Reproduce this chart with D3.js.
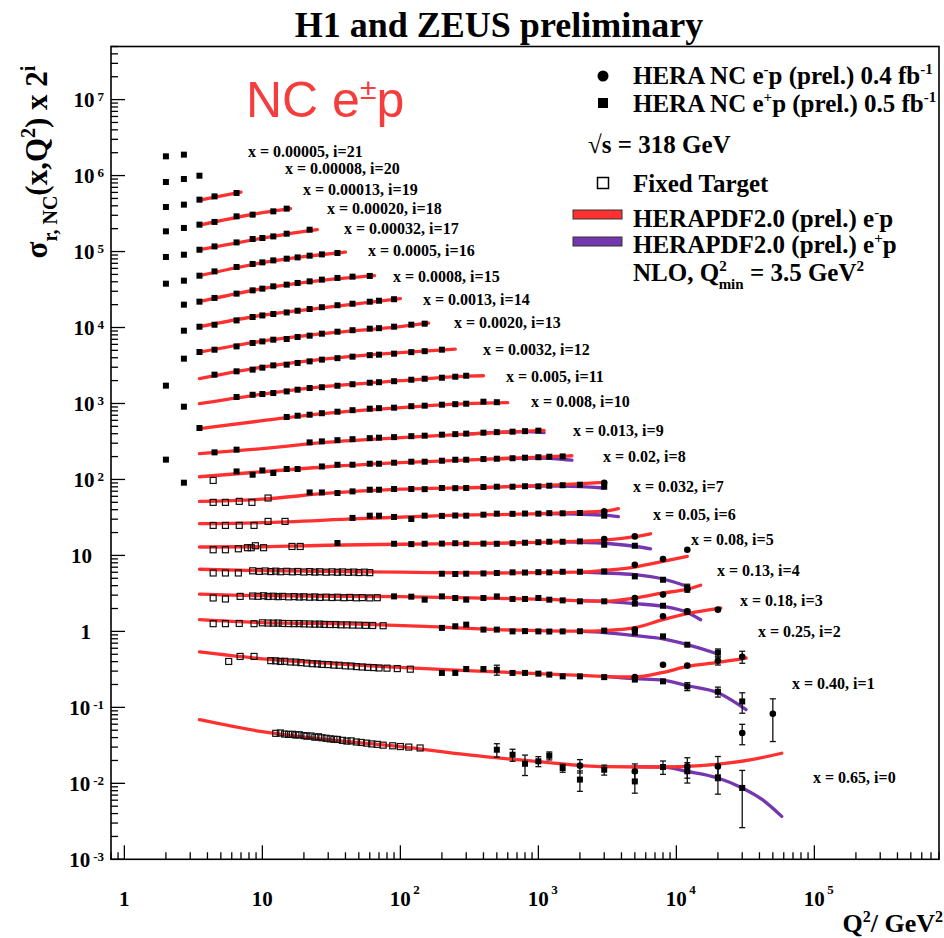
<!DOCTYPE html>
<html>
<head>
<meta charset="utf-8">
<script src="https://cdn.jsdelivr.net/npm/d3@7"></script>
<style>
  body { margin: 0; background: #fff; }
  svg text { font-family: 'Liberation Serif', 'Times New Roman', serif; font-weight: bold; }
</style>
</head>
<body>
<div id="chart"></div>
<script>
// ---- data (sigma_r; plotted value = sigma_r * 2^i) ----

// bin labels, index = i
const binX = ["0.65","0.40","0.25","0.18","0.13","0.08","0.05","0.032","0.02","0.013","0.008",
  "0.005","0.0032","0.0020","0.0013","0.0008","0.0005","0.00032","0.00020","0.00013","0.00008","0.00005"];

// HERA NC e+p points [Q2, sigma, relErr]
const heraPlus = [
  [[500,0.0277,0.2],[650,0.0238,0.18],[800,0.0181,0.3],[1000,0.0195,0.15],[1200,0.0231,0.12],[1500,0.0159,0.12],[2000,0.0112,0.3],[3000,0.0151,0.15],[5000,0.0106,0.3],[8000,0.0164,0.2],[12000,0.0144,0.3],[20000,0.0120,0.4],[30000,0.0087,0.7]],
  [[200,0.142,0.03],[250,0.142,0.03],[300,0.160,0.03],[400,0.160,0.03],[500,0.156,0.15],[650,0.142,0.03],[800,0.142,0.03],[1000,0.139,0.03],[1200,0.135,0.04],[1500,0.128,0.04],[2000,0.128,0.05],[3000,0.125,0.05],[5000,0.116,0.06],[8000,0.110,0.1],[12000,0.0943,0.12],[20000,0.0803,0.15],[30000,0.0598,0.3]],
  [[200,0.278,0.03],[250,0.292,0.06],[300,0.307,0.03],[400,0.264,0.03],[500,0.264,0.03],[650,0.250,0.03],[800,0.252,0.03],[1000,0.250,0.03],[1200,0.249,0.03],[1500,0.250,0.03],[2000,0.251,0.03],[3000,0.256,0.04],[5000,0.241,0.06],[8000,0.215,0.08],[12000,0.167,0.1],[20000,0.131,0.12]],
  [[90,0.361,0],[120,0.358,0],[150,0.327,0],[200,0.361,0],[250,0.344,0],[300,0.327,0],[400,0.344,0],[500,0.361,0],[650,0.334,0],[800,0.334,0],[1000,0.344,0],[1200,0.327,0],[1500,0.320,0],[2000,0.311,0.03],[3000,0.311,0.04],[5000,0.290,0.05],[8000,0.272,0.07],[12000,0.226,0.1]],
  [[200,0.359,0],[250,0.356,0],[300,0.359,0],[400,0.362,0],[500,0.367,0],[650,0.374,0],[800,0.372,0],[1000,0.376,0],[1200,0.374,0],[1500,0.381,0],[2000,0.381,0.03],[3000,0.385,0.04],[5000,0.331,0.05],[8000,0.299,0.07],[12000,0.233,0.12]],
  [[35,0.455,0],[90,0.445,0],[120,0.440,0],[150,0.445,0],[200,0.447,0],[250,0.452,0],[300,0.445,0],[400,0.447,0],[500,0.445,0],[650,0.452,0],[800,0.459,0],[1000,0.466,0],[1200,0.473,0],[1500,0.473,0],[2000,0.478,0.03],[3000,0.432,0.04],[5000,0.419,0.06]],
  [[45,0.487,0],[60,0.521,0],[70,0.521,0],[90,0.501,0],[120,0.472,0],[150,0.521,0],[200,0.518,0],[250,0.524,0],[300,0.521,0],[400,0.537,0],[500,0.554,0],[650,0.551,0],[800,0.556,0],[1000,0.554,0],[1200,0.562,0],[1500,0.560,0],[2000,0.566,0.03],[3000,0.521,0.04]],
  [[22,0.527,0],[27,0.527,0],[35,0.518,0],[45,0.544,0],[60,0.572,0],[70,0.572,0],[90,0.585,0],[120,0.585,0],[150,0.582,0],[200,0.603,0],[250,0.600,0],[300,0.603,0],[400,0.622,0],[500,0.627,0],[650,0.627,0],[800,0.636,0],[1000,0.634,0],[1200,0.646,0],[1500,0.656,0],[2000,0.666,0.03],[3000,0.627,0.04]],
  [[2.7,0.354,0],[6.5,0.498,0],[8.5,0.451,0],[10,0.513,0],[12,0.475,0],[15,0.536,0],[18,0.536,0],[27,0.579,0],[35,0.610,0],[45,0.610,0],[60,0.629,0],[70,0.629,0],[90,0.649,0],[120,0.669,0],[150,0.669,0],[200,0.689,0],[250,0.710,0],[300,0.710,0],[400,0.725,0],[500,0.732,0],[650,0.743,0],[800,0.755,0],[1000,0.766,0],[1200,0.778,0.02],[1500,0.785,0.03]],
  [[2,0.356,0],[4.5,0.444,0],[6.5,0.482,0],[22,0.601,0],[27,0.619,0],[35,0.642,0],[45,0.662,0],[60,0.683,0],[70,0.693,0],[90,0.704,0],[120,0.725,0],[150,0.736,0],[200,0.759,0],[250,0.771,0],[300,0.783,0],[400,0.806,0],[500,0.819,0],[650,0.831,0],[800,0.844,0],[1000,0.857,0.02]],
  [[3.5,0.464,0],[15,0.649,0],[18,0.674,0],[22,0.695,0],[27,0.727,0],[35,0.761,0],[45,0.797,0],[60,0.834,0],[70,0.847,0],[90,0.860,0],[120,0.899,0],[150,0.913,0],[200,0.941,0],[250,0.956,0],[300,0.970,0],[400,1.031,0],[500,1.015,0]],
  [[2.7,0.443,0],[6.5,0.594,0],[8.5,0.636,0],[10,0.650,0],[12,0.670,0],[15,0.704,0],[18,0.741,0],[22,0.780,0],[27,0.799,0],[35,0.836,0],[45,0.875,0],[60,0.916,0],[70,0.930,0],[90,0.959,0],[120,1.003,0],[150,1.034,0],[200,1.066,0],[250,1.099,0],[300,1.132,0]],
  [[2,0.419,0],[4.5,0.585,0],[6.5,0.647,0],[8.5,0.681,0],[10,0.723,0],[12,0.775,0],[15,0.792,0],[18,0.834,0],[22,0.875,0],[27,0.922,0],[35,0.964,0],[45,1.009,0],[60,1.056,0],[70,1.072,0],[90,1.105,0],[120,1.157,0],[150,1.192,0],[200,1.247,0]],
  [[2.7,0.475,0],[3.5,0.581,0],[4.5,0.623,0],[6.5,0.689,0],[8.5,0.764,0],[10,0.801,0],[12,0.844,0],[15,0.862,0],[18,0.916,0],[22,0.953,0],[27,1.012,0],[35,1.075,0],[45,1.125,0],[60,1.178,0],[70,1.196,0],[90,1.252,0],[120,1.330,0],[150,1.371,0]],
  [[2.7,0.554,0],[3.5,0.625,0],[4.5,0.664,0],[6.5,0.757,0],[8.5,0.839,0],[10,0.880,0],[12,0.919,0],[15,0.964,0],[18,1.015,0],[22,1.069,0],[27,1.129,0],[35,1.199,0],[45,1.255,0],[60,1.334,0],[70,1.375,0],[90,1.439,0]],
  [[2.7,0.610,0],[3.5,0.668,0],[4.5,0.748,0],[6.5,0.852,0],[8.5,0.941,0],[10,0.991,0],[12,1.063,0],[15,1.119,0],[18,1.178,0],[22,1.236,0],[27,1.302,0],[35,1.371,0],[45,1.426,0],[60,1.457,0]],
  [[2,0.576,0],[2.7,0.631,0],[3.5,0.734,0],[4.5,0.836,0],[6.5,0.956,0],[8.5,1.047,0],[10,1.099,0],[12,1.167,0],[15,1.229,0],[18,1.278,0],[22,1.346,0],[27,1.400,0],[35,1.461,0]],
  [[2,0.647,0],[2.7,0.693,0],[3.5,0.806,0],[4.5,0.891,0],[6.5,1.006,0],[8.5,1.116,0],[10,1.150,0],[12,1.207,0],[15,1.310,0],[22,1.479,0]],
  [[2,0.704,0],[2.7,0.780,0],[3.5,0.862,0],[4.5,0.936,0],[6.5,1.109,0],[8.5,1.167,0],[12,1.290,0],[15,1.400,0]],
  [[2,0.736,0],[2.7,0.790,0],[3.5,0.919,0],[4.5,1.015,0],[6.5,1.125,0]],
  [[2,0.785,0],[2.7,0.860,0],[3.5,0.950,0]],
  [[2,0.854,0],[2.7,0.899,0]]
];

// HERA NC e-p points [Q2, sigma, relErr]
const heraMinus = [
  [[2000,0.0171,0.2],[5000,0.0144,0.25],[12000,0.0167,0.3],[20000,0.0167,0.35],[30000,0.046,0.3],[50000,0.0825,0.57]],
  [[5000,0.125,0.05],[8000,0.182,0.08],[12000,0.177,0.1],[20000,0.205,0.12],[30000,0.232,0.18]],
  [[5000,0.264,0.05],[8000,0.395,0.07],[12000,0.459,0.08],[20000,0.483,0.1]],
  [[5000,0.344,0.05],[8000,0.381,0.06],[12000,0.449,0.08]],
  [[5000,0.472,0.05],[8000,0.561,0.07],[12000,0.743,0.1]],
  [[3000,0.513,0.04],[5000,0.556,0.05]],
  [[3000,0.594,0.04]],
  [[3000,0.708,0.04]]
];

// fixed target points [Q2, sigma]
const fixedTarget = [
  [[12.5,0.0455],[13.5,0.046],[14.5,0.0445],[15.5,0.044],[16.5,0.0442],[17.5,0.0432],[18.5,0.0436],[20,0.0425],[21,0.0418],[22.5,0.042],[24,0.0405],[25.5,0.041],[27,0.0398],[29,0.0392],[31,0.0385],[33,0.038],[35,0.0378],[38,0.0368],[41,0.036],[44,0.0362],[48,0.035],[52,0.0345],[57,0.0338],[62,0.033],[68,0.0326],[75,0.0318],[88,0.0312],[100,0.0305],[115,0.030],[139,0.0292]],
  [[5.7,0.201],[6.9,0.234],[8.7,0.234],[11.5,0.206],[12.5,0.205],[13.5,0.201],[14.5,0.202],[16,0.198],[17.5,0.197],[19,0.194],[21,0.191],[23,0.188],[25,0.187],[27,0.184],[30,0.183],[33,0.180],[36,0.179],[40,0.176],[44,0.175],[48,0.172],[53,0.170],[58,0.168],[64,0.167],[70,0.165],[80,0.164],[95,0.162],[118,0.159]],
  [[4.4,0.316],[5.4,0.316],[6.8,0.318],[8.7,0.316],[10,0.324],[11,0.322],[12,0.321],[13,0.322],[14,0.318],[15.5,0.317],[17,0.316],[18.5,0.317],[20,0.314],[22,0.313],[24,0.311],[26,0.312],[28,0.309],[31,0.308],[34,0.308],[37,0.305],[41,0.305],[45,0.303],[50,0.302],[56,0.300],[63,0.299],[75,0.297]],
  [[4.4,0.344],[5.4,0.334],[6.9,0.361],[8.5,0.365],[9.3,0.362],[10.2,0.368],[11,0.360],[12,0.363],[13,0.358],[14,0.361],[15.5,0.356],[17,0.359],[18.5,0.354],[20,0.357],[22,0.352],[24,0.355],[26,0.350],[29,0.353],[32,0.349],[35,0.352],[39,0.347],[43,0.350],[48,0.346],[53,0.348],[60,0.345],[68,0.347]],
  [[4.4,0.367],[5.4,0.367],[6.7,0.367],[8.5,0.392],[9.5,0.385],[10.5,0.390],[11.5,0.383],[12.5,0.388],[13.5,0.381],[15,0.386],[16.5,0.380],[18,0.384],[20,0.378],[22,0.383],[24,0.377],[26,0.381],[29,0.376],[32,0.380],[35,0.375],[38,0.379],[42,0.374],[46,0.377],[50,0.372],[55,0.376],[60,0.371]],
  [[4.4,0.371],[5.4,0.371],[6.7,0.382],[7.8,0.395],[8.3,0.395],[8.9,0.419],[10.2,0.395],[16.4,0.410],[18.8,0.410]],
  [[4.4,0.388],[5.4,0.388],[6.8,0.388],[8.7,0.388],[11,0.438],[14.6,0.438]],
  [[4.4,0.390],[5.4,0.390],[6.8,0.402],[8.4,0.390],[11,0.445]],
  [[4.4,0.379]]
];

// HERAPDF2.0 e-p prediction [Q2, sigma]
const pdfMinus = [
  [[3.5,0.0688],[10,0.0478],[30,0.0375],[100,0.0304],[300,0.0238],[1000,0.0193],[3000,0.01656],[8000,0.0164],[15000,0.01707],[25000,0.0187],[35000,0.0205],[58000,0.0249]],
  [[3.5,0.268],[10,0.218],[30,0.1905],[70,0.173],[300,0.152],[1000,0.139],[3000,0.1277],[5000,0.1254],[8000,0.1442],[12000,0.1729],[20000,0.1952],[32000,0.223]],
  [[3.5,0.357],[10,0.326],[50,0.3116],[150,0.2915],[500,0.264],[2000,0.2518],[3000,0.2562],[5000,0.28],[8000,0.357],[12000,0.428],[21000,0.5055]],
  [[3.5,0.3864],[10,0.3689],[100,0.3578],[1000,0.3317],[3000,0.3124],[5000,0.3439],[8000,0.4005],[12000,0.449],[15000,0.507]],
  [[3.5,0.4111],[10,0.3935],[100,0.3757],[500,0.3669],[2000,0.3757],[3000,0.397],[5000,0.4394],[8000,0.5211],[12000,0.6066]],
  [[3.5,0.4031],[10,0.4066],[30,0.4253],[100,0.4384],[500,0.4519],[2000,0.4805],[3000,0.4953],[5000,0.5506],[6500,0.6027]],
  [[3.5,0.409],[10,0.4216],[50,0.476],[200,0.5211],[1000,0.5539],[3000,0.5972],[3800,0.6444]],
  [[3.5,0.4019],[10,0.4297],[30,0.5148],[100,0.5812],[500,0.6215],[1500,0.6662],[3000,0.7142]],
  [[3.5,0.424],[10,0.4938],[30,0.5742],[100,0.6485],[500,0.7318],[1500,0.7897],[1750,0.8014]],
  [[3.5,0.4266],[10,0.4967],[30,0.6046],[100,0.6928],[300,0.7706],[1100,0.8647]],
  [[3.5,0.4546],[10,0.5794],[30,0.7274],[100,0.8595],[300,0.9701],[600,1.0]],
  [[3.5,0.4846],[10,0.6465],[30,0.8236],[100,0.9731],[300,1.1155],[400,1.1324]],
  [[3.5,0.518],[10,0.7342],[30,0.9498],[100,1.1394],[250,1.2664]],
  [[3.5,0.5776],[10,0.8063],[30,1.0277],[100,1.2515],[160,1.3914]],
  [[3.5,0.6254],[10,0.8857],[30,1.129],[100,1.461]],
  [[3.5,0.6684],[10,0.9909],[30,1.3019],[65,1.4697]],
  [[3.5,0.7342],[10,1.0886],[20,1.3058],[40,1.496]],
  [[3.5,0.8063],[10,1.1426],[15,1.2901],[25,1.4787]],
  [[3.5,0.8491],[10,1.2403],[16,1.4001]],
  [[3.5,0.9048],[7,1.153]]
];

// HERAPDF2.0 e+p prediction where it departs from e-p [Q2, sigma]
const pdfPlus = [
  [[5000,0.01656],[8000,0.0164],[12000,0.01436],[20000,0.01175],[30000,0.00869],[42000,0.00609],[58000,0.00367]],
  [[3000,0.1277],[5000,0.1191],[8000,0.1138],[12000,0.0963],[20000,0.0779],[32000,0.0466]],
  [[2000,0.2518],[3000,0.241],[5000,0.22],[8000,0.1992],[12000,0.1673],[19000,0.13]],
  [[2000,0.3172],[3000,0.3105],[5000,0.2897],[8000,0.2672],[12000,0.2221],[15000,0.178]],
  [[2000,0.3757],[3000,0.3669],[5000,0.3487],[8000,0.3058],[12000,0.2445]],
  [[1500,0.473],[3000,0.4519],[5000,0.4126],[6500,0.3822]],
  [[1000,0.5539],[2000,0.5454],[3000,0.529],[3800,0.5055]],
  [[800,0.6364],[1500,0.6364],[3000,0.6027]],
  [[500,0.7318],[1000,0.7475],[1500,0.7206],[1750,0.6994]],
  [[300,0.7706],[800,0.8313],[1100,0.8063]]
];

// ---- layout ----
const W = 944, H = 938;
const labelPos = [[813,783],[792,689],[758,637],[740,606],[717,576],[691,545],[653,520],[633,492],[603,462],[573,436],[531,407],
  [506,382],[483,355],[454,328],[423,305],[393,282],[368,256],[344,234],[327,214],[303,195],[285,174],[248,157]];
const RED = "#ff3030", PURPLE = "#7537b0";

const svg = d3.select("#chart").append("svg").attr("width", W).attr("height", H);

const x = d3.scaleLog().domain([0.8, 8e5]).range([111, 939]);
const y = d3.scaleLog().domain([1e-3, 5e7]).range([859.3, 46.5]);

// text with super/subscripts: parts [text, kind(0 normal, 1 sup, -1 sub), dx]
function rich(t, parts, small, shift) {
  let cur = 0;
  parts.forEach(p => {
    const off = p[1] === 1 ? -shift : (p[1] === -1 ? shift * 0.8 : 0);
    const ts = t.append("tspan").attr("dy", off - cur).text(p[0]);
    if (p[1] !== 0) ts.attr("font-size", small);
    if (p[2]) ts.attr("dx", p[2]);
    cur = off;
  });
  return t;
}

// ---- curves ----
const gCurves = svg.append("g").attr("fill", "none").attr("stroke-width", 3.3).attr("stroke-linecap", "round");
function curvePath(i) {
  return d3.line().x(d => x(d[0])).y(d => y(d[1] * Math.pow(2, i))).curve(d3.curveMonotoneX);
}
pdfPlus.forEach((c, i) => gCurves.append("path").attr("d", curvePath(i)(c)).attr("stroke", PURPLE));
pdfMinus.forEach((c, i) => gCurves.append("path").attr("d", curvePath(i)(c)).attr("stroke", RED));

// ---- points ----
const gPts = svg.append("g");
function errBar(i, d) {
  if (!d[2]) return;
  const s = Math.pow(2, i), px = x(d[0]);
  const y1 = y(d[1] * (1 + d[2]) * s), y2 = y(Math.max(d[1] * (1 - d[2]), 1e-4) * s);
  if (y2 - y1 < 7) return;
  gPts.append("line").attr("x1", px).attr("x2", px).attr("y1", y1).attr("y2", y2).attr("stroke", "#111").attr("stroke-width", 1.3);
  [y1, y2].forEach(yy => gPts.append("line").attr("x1", px - 3).attr("x2", px + 3).attr("y1", yy).attr("y2", yy)
    .attr("stroke", "#111").attr("stroke-width", 1.3));
}
fixedTarget.forEach((bin, i) => bin.forEach(d => {
  gPts.append("rect").attr("x", x(d[0]) - 3).attr("y", y(d[1] * Math.pow(2, i)) - 3).attr("width", 6).attr("height", 6)
    .attr("fill", "none").attr("stroke", "#111").attr("stroke-width", 1.2);
}));
heraPlus.forEach((bin, i) => bin.forEach(d => {
  errBar(i, d);
  gPts.append("rect").attr("x", x(d[0]) - 3).attr("y", y(d[1] * Math.pow(2, i)) - 3).attr("width", 6).attr("height", 6).attr("fill", "#000");
}));
heraMinus.forEach((bin, i) => bin.forEach(d => {
  errBar(i, d);
  gPts.append("circle").attr("cx", x(d[0])).attr("cy", y(d[1] * Math.pow(2, i))).attr("r", 3.3).attr("fill", "#000");
}));

// ---- bin labels ----
binX.forEach((bx, i) => {
  svg.append("text").attr("x", labelPos[i][0]).attr("y", labelPos[i][1]).attr("font-size", 16)
    .text("x = " + bx + ", i=" + i);
});

// ---- frame and ticks ----
const x0 = 111, x1 = 939, y0 = 46.5, y1 = 859.3;
const gAx = svg.append("g").attr("stroke", "#000").attr("stroke-width", 1.3);
for (let e = -3; e <= 7; e++) {
  for (let k = 1; k <= 9; k++) {
    const v = k * Math.pow(10, e);
    if (v < 1e-3 || v > 5e7) continue;
    const py = y(v);
    gAx.append("line").attr("x1", x0).attr("x2", x0 + (k === 1 ? 14 : 7)).attr("y1", py).attr("y2", py);
  }
}
for (let e = -1; e <= 5; e++) {
  for (let k = 1; k <= 9; k++) {
    const v = k * Math.pow(10, e);
    if (v < 0.8 || v > 8e5) continue;
    const px = x(v);
    gAx.append("line").attr("x1", px).attr("x2", px).attr("y1", y1).attr("y2", y1 - (k === 1 ? 14 : 7));
  }
}
svg.append("rect").attr("x", x0).attr("y", y0).attr("width", x1 - x0).attr("height", y1 - y0)
  .attr("fill", "none").attr("stroke", "#000").attr("stroke-width", 1.6);

// y tick labels
for (let e = -3; e <= 7; e++) {
  const py = y(Math.pow(10, e)) + 7.5;
  const t = svg.append("text").attr("y", py).attr("font-size", 21).attr("text-anchor", "end");
  if (e === 0) t.attr("x", 91).text("1");
  else if (e === 1) t.attr("x", 92).text("10");
  else { t.attr("x", 104); rich(t, [["10", 0], [String(e), 1, 3]], 13, 6); }
}
// x tick labels
for (let e = 0; e <= 5; e++) {
  const px = x(Math.pow(10, e));
  svg.append("text").attr("x", px).attr("y", 906).attr("font-size", 21).attr("text-anchor", "middle")
    .text(e === 0 ? "1" : "10");
  if (e > 1) svg.append("text").attr("x", px + 13).attr("y", 894).attr("font-size", 13).text(e);
}

// ---- titles ----
svg.append("text").attr("x", 499).attr("y", 37).attr("font-size", 36).attr("text-anchor", "middle")
  .text("H1 and ZEUS preliminary");
rich(svg.append("text").attr("x", 943).attr("y", 932).attr("font-size", 26).attr("text-anchor", "end"),
  [["Q", 0], ["2", 1], ["/ GeV", 0], ["2", 1]], 16, 10);
rich(svg.append("text").attr("transform", "translate(47,162) rotate(-90)").attr("font-size", 31).attr("text-anchor", "middle"),
  [["σ", 0], ["r, NC", -1], ["(x,Q", 0], ["2", 1], [") x 2", 0], ["i", 1]], 20, 12);

rich(svg.append("text").attr("x", 246).attr("y", 117).attr("font-size", 50).attr("fill", "#f53d3d")
  .style("font-family", "'Liberation Sans', Arial, sans-serif").style("font-weight", "normal"),
  [["NC e", 0], ["±", 1], ["p", 0]], 30, 18);

// ---- legend ----
const lg = svg.append("g").attr("font-size", 25);
lg.append("circle").attr("cx", 603).attr("cy", 76).attr("r", 5.5).attr("fill", "#000");
rich(lg.append("text").attr("x", 633).attr("y", 84), [["HERA NC e", 0], ["-", 1], ["p (prel.) 0.4 fb", 0], ["-1", 1]], 15, 10);
lg.append("rect").attr("x", 598).attr("y", 98).attr("width", 10).attr("height", 10).attr("fill", "#000");
rich(lg.append("text").attr("x", 633).attr("y", 112), [["HERA NC e", 0], ["+", 1], ["p (prel.) 0.5 fb", 0], ["-1", 1]], 15, 10);
lg.append("text").attr("x", 588).attr("y", 153).text("√s = 318 GeV");
lg.append("rect").attr("x", 597.5).attr("y", 177.5).attr("width", 11).attr("height", 11)
  .attr("fill", "none").attr("stroke", "#000").attr("stroke-width", 1.5);
lg.append("text").attr("x", 633).attr("y", 192).text("Fixed Target");
lg.append("rect").attr("x", 573).attr("y", 210).attr("width", 49).attr("height", 9).attr("fill", RED).attr("stroke", "#333");
rich(lg.append("text").attr("x", 633).attr("y", 227), [["HERAPDF2.0 (prel.) e", 0], ["-", 1], ["p", 0]], 15, 10);
lg.append("rect").attr("x", 573).attr("y", 237).attr("width", 49).attr("height", 9).attr("fill", PURPLE).attr("stroke", "#333");
rich(lg.append("text").attr("x", 633).attr("y", 253), [["HERAPDF2.0 (prel.) e", 0], ["+", 1], ["p", 0]], 15, 10);
rich(lg.append("text").attr("x", 633).attr("y", 281),
  [["NLO, Q", 0], ["2", 1], ["min", -1, -8], [" = 3.5 GeV", 0], ["2", 1]], 15, 10);
</script>
</body>
</html>
